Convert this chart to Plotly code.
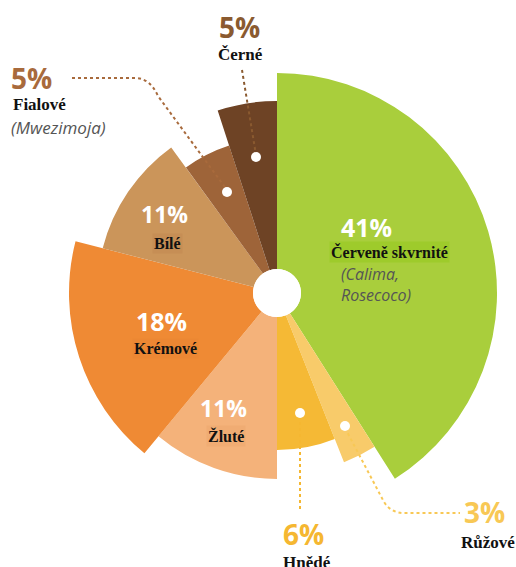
import plotly.graph_objects as go

W, H = 516, 567

# ---- data ----
categories = ["Červeně skvrnité", "Růžové", "Hnědé", "Žluté", "Krémové", "Bílé", "Fialové", "Černé"]
shares = [41, 3, 6, 11, 18, 11, 5, 5]                 # percent (angular size)
outer_radius = [220, 182, 157, 186, 208, 180, 155, 192]  # radial size
hole_radius = 24
colors = ["#A9CE3C", "#F8CB6A", "#F5B935", "#F4B27A", "#EF8A34", "#CB955A", "#9E6439", "#6E4325"]
subtitles = {"Červeně skvrnité": "(Calima,<br>Rosecoco)", "Fialové": "(Mwezimoja)"}

# ---- geometry ----
cx, cy, R = 277, 293, 224
widths = [s * 3.6 for s in shares]
thetas = []
acc = 0
for w in widths:
    thetas.append(acc + w / 2)
    acc += w
lengths = [r - hole_radius for r in outer_radius]

def px(x, y):
    return x / W, 1 - y / H

fig = go.Figure()
fig.add_trace(go.Barpolar(
    r=lengths, theta=thetas, width=widths,
    marker=dict(color=colors, line=dict(width=0)),
    hoverinfo="skip", showlegend=False,
))

fig.update_layout(
    width=W, height=H, margin=dict(l=0, r=0, t=0, b=0),
    paper_bgcolor="white", plot_bgcolor="white",
    polar=dict(
        domain=dict(x=[(cx - R) / W, (cx + R) / W], y=[1 - (cy + R) / H, 1 - (cy - R) / H]),
        hole=hole_radius / R,
        bgcolor="rgba(0,0,0,0)",
        radialaxis=dict(visible=False, range=[0, R - hole_radius]),
        angularaxis=dict(visible=False, rotation=90, direction="clockwise"),
    ),
)

PCT_FONT = "Open Sans"
SERIF = "Liberation Serif"

def ann(x, y, text, size, color, family, bg=None, bold=False, italic=False, xanchor="center"):
    t = text
    if bold:
        t = "<b>" + t + "</b>"
    if italic:
        t = "<i>" + t + "</i>"
    xx, yy = px(x, y)
    d = dict(x=xx, y=yy, xref="paper", yref="paper", text=t, showarrow=False,
             xanchor=xanchor, yanchor="middle", align=xanchor if xanchor != "center" else "center",
             font=dict(size=size, color=color, family=family))
    if bg:
        d["bgcolor"] = bg
        d["borderpad"] = 1
    fig.add_annotation(**d)

# percent labels
ann(366, 227, f"{shares[0]}%", 25, "white", PCT_FONT, bold=True)
ann(389, 252, categories[0], 16, "#111", SERIF, bg="#9ECB2B", bold=True)
ann(339, 284, subtitles["Červeně skvrnité"], 16, "#555555", PCT_FONT, italic=True, xanchor="left")

ann(164, 214, f"{shares[5]}%", 23, "white", PCT_FONT, bold=True)
ann(167, 243, categories[5], 16, "#111", SERIF, bg="#C68E55", bold=True)

ann(161, 321, f"{shares[4]}%", 25, "white", PCT_FONT, bold=True)
ann(165, 348, categories[4], 16, "#111", SERIF, bg="#EC8733", bold=True)

ann(223, 408, f"{shares[3]}%", 23, "white", PCT_FONT, bold=True)
ann(226, 436, categories[3], 16, "#111", SERIF, bg="#F0AC73", bold=True)

ann(31, 78, f"{shares[6]}%", 28, "#A86A3C", PCT_FONT, bold=True)
ann(11, 104, categories[6], 17, "#111", SERIF, bold=True, xanchor="left")
ann(9, 127, subtitles["Fialové"], 17, "#555555", PCT_FONT, italic=True, xanchor="left")

ann(239, 27, f"{shares[7]}%", 28, "#8A5A30", PCT_FONT, bold=True)
ann(240, 54, categories[7], 17, "#111", SERIF, bold=True)

ann(303, 534, f"{shares[2]}%", 28, "#F5B731", PCT_FONT, bold=True)
ann(307, 562, categories[2], 17, "#111", SERIF, bold=True)

ann(484, 512, f"{shares[1]}%", 28, "#F8C855", PCT_FONT, bold=True)
ann(488, 542, categories[1], 17, "#111", SERIF, bold=True)

# leader lines
def path(points, cmds):
    s = ""
    for c, pts in zip(cmds, points):
        s += c + " " + " ".join("%.5f,%.5f" % px(*p) for p in pts) + " "
    return s.strip()

def leader(points, cmds, color):
    fig.add_shape(type="path", xref="paper", yref="paper",
                  path=path(points, cmds), line=dict(color=color, width=2, dash="dot"))

def dot(x, y, r=5):
    x0, y0 = px(x - r, y + r)
    x1, y1 = px(x + r, y - r)
    fig.add_shape(type="circle", xref="paper", yref="paper", x0=x0, y0=y0, x1=x1, y1=y1,
                  fillcolor="white", line=dict(width=0))

leader([[(72, 78)], [(135, 78)], [(150, 78), (158, 96)], [(227, 190)]], ["M", "L", "Q", "L"], "#A86A3C")
leader([[(242, 70)], [(256, 155)]], ["M", "L"], "#8A5A30")
leader([[(300, 416)], [(300, 512)]], ["M", "L"], "#F5B731")
leader([[(345, 428)], [(384, 502)], [(391, 513), (404, 513)], [(460, 513)]], ["M", "L", "Q", "L"], "#F8C855")

dot(227, 192)
dot(256, 157)
dot(300, 413)
dot(345, 426)

fig.write_html("out.html", config={"displayModeBar": False},
               post_script="document.body.style.margin='0';document.body.style.padding='0';")
